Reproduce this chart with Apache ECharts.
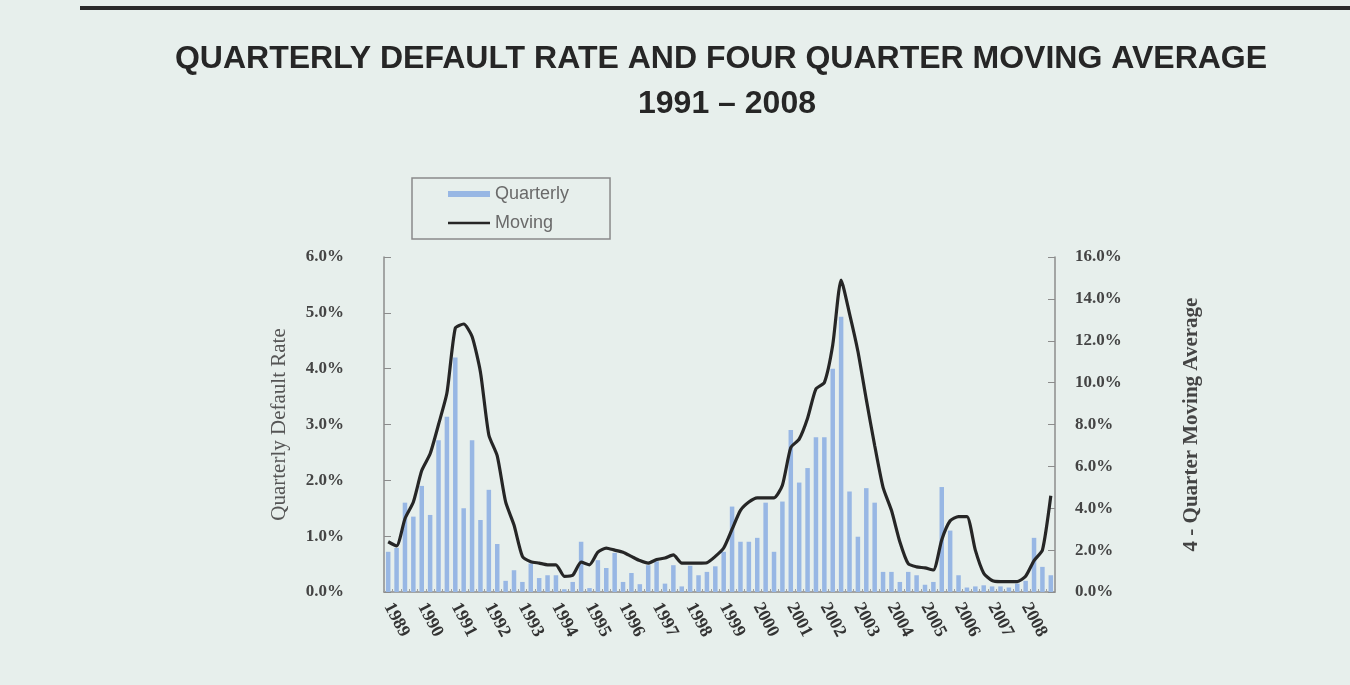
<!DOCTYPE html>
<html>
<head>
<meta charset="utf-8">
<script src="https://cdn.jsdelivr.net/npm/echarts@6/dist/echarts.min.js"></script>
<style>
html,body{margin:0;padding:0;background:#e7efec;}
#c{width:1350px;height:685px;}
</style>
</head>
<body>
<div id="c"></div>
<script>
var years = ['1989','1990','1991','1992','1993','1994','1995','1996','1997','1998','1999','2000','2001','2002','2003','2004','2005','2006','2007','2008'];
var quarterNames = ['Q1','Q2','Q3','Q4'];
var quarterly = [
 0.72, 0.79, 1.6, 1.35, 1.9, 1.38, 2.72, 3.14, 4.2, 1.5,
 2.72, 1.29, 1.83, 0.86, 0.2, 0.39, 0.18, 0.51, 0.25, 0.3,
 0.3, 0.05, 0.18, 0.9, 0.07, 0.57, 0.43, 0.7, 0.18, 0.34,
 0.14, 0.48, 0.55, 0.15, 0.48, 0.1, 0.47, 0.3, 0.36, 0.46,
 0.72, 1.53, 0.9, 0.9, 0.97, 1.6, 0.72, 1.62, 2.9, 1.96,
 2.22, 2.77, 2.77, 4.0, 4.93, 1.8, 0.99, 1.86, 1.6, 0.36,
 0.36, 0.18, 0.36, 0.3, 0.13, 0.18, 1.88, 1.1, 0.3, 0.08,
 0.1, 0.12, 0.1, 0.1, 0.08, 0.15, 0.2, 0.97, 0.45, 0.3
];
var moving = [
 2.4, 2.2, 3.5, 4.3, 5.8, 6.6, 8.0, 9.5, 12.6, 12.8,
 12.2, 10.5, 7.5, 6.5, 4.3, 3.2, 1.7, 1.45, 1.38, 1.3,
 1.3, 0.75, 0.8, 1.43, 1.3, 1.9, 2.1, 2.0, 1.9, 1.7,
 1.5, 1.38, 1.55, 1.62, 1.77, 1.38, 1.38, 1.38, 1.4, 1.7,
 2.1, 3.0, 3.9, 4.3, 4.5, 4.5, 4.5, 5.1, 6.9, 7.3,
 8.3, 9.7, 10.0, 11.8, 14.9, 13.3, 11.5, 9.2, 7.0, 5.0,
 3.9, 2.4, 1.35, 1.2, 1.15, 1.05, 2.5, 3.4, 3.6, 3.6,
 2.0, 0.9, 0.55, 0.5, 0.5, 0.5, 0.75, 1.5, 2.0, 4.6
];
var leftTicks = [0, 6, 1];
var rightTicks = [0, 16, 2];
var titleLines = ['QUARTERLY DEFAULT RATE AND FOUR QUARTER MOVING AVERAGE', '1991 \u2013 2008'];

var categories = [];
years.forEach(function(y){ quarterNames.forEach(function(q){ categories.push(y + ' ' + q); }); });

var serif = '"Liberation Serif","DejaVu Serif",serif';
var sans = '"Liberation Sans",Arial,sans-serif';

var chart = echarts.init(document.getElementById('c'));
chart.setOption({
  backgroundColor: '#e7efec',
  animation: false,
  graphic: [{
    type: 'rect', left: 80, top: 6, shape: {width: 1270, height: 4}, style: {fill: '#2a2a2a'}
  },{
    type: 'text', x: 721, y: 43,
    style: {text: titleLines[0], textAlign: 'center', textVerticalAlign: 'top',
      font: 'bold 32px "Liberation Sans", Arial, sans-serif', fill: '#262626'}
  },{
    type: 'text', x: 727, y: 88,
    style: {text: titleLines[1], textAlign: 'center', textVerticalAlign: 'top',
      font: 'bold 32px "Liberation Sans", Arial, sans-serif', fill: '#262626'}
  }],
  legend: {
    orient: 'vertical', left: 412, top: 178,
    padding: [7, 41, 7, 36], itemGap: 11,
    itemWidth: 42, itemHeight: 6,
    borderColor: '#8a8a8a', borderWidth: 1.5,
    textStyle: {fontFamily: sans, fontSize: 18, color: '#6a6a6a'},
    data: [
      {name: 'Quarterly', icon: 'rect'},
      {name: 'Moving', icon: 'path://M0,0 M0,1.8 L42,1.8 L42,4.2 L0,4.2 Z M42,6'}
    ]
  },
  grid: {left: 384, right: 295, top: 257, bottom: 93},
  xAxis: {
    type: 'category', data: categories, boundaryGap: true,
    axisLine: {lineStyle: {color: '#8c8c8c', width: 1.5}},
    axisTick: {show: true, inside: true, interval: 0, length: 3, lineStyle: {color: '#a0a0a0'}},
    axisLabel: {
      interval: 3, rotate: -62, margin: 12,
      fontFamily: serif, fontWeight: 'bold', fontSize: 18, color: '#333',
      formatter: function(v){ return v.slice(0,4); }
    }
  },
  yAxis: [{
    type: 'value', min: leftTicks[0], max: leftTicks[1], interval: leftTicks[2],
    name: 'Quarterly Default Rate', nameLocation: 'middle', nameGap: 94, nameRotate: 90,
    nameTextStyle: {fontFamily: serif, fontSize: 21, color: '#555'},
    axisLine: {show: true, lineStyle: {color: '#8c8c8c', width: 1.5}},
    axisTick: {show: true, inside: true, length: 7, lineStyle: {color: '#8c8c8c'}},
    splitLine: {show: false},
    axisLabel: {margin: 40, fontFamily: serif, fontWeight: 'bold', fontSize: 17, color: '#444',
      formatter: function(v){ return v.toFixed(1) + '%'; }}
  },{
    type: 'value', min: rightTicks[0], max: rightTicks[1], interval: rightTicks[2], position: 'right',
    name: '4 - Quarter Moving Average', nameLocation: 'middle', nameGap: 126, nameRotate: 90,
    nameTextStyle: {fontFamily: serif, fontWeight: 'bold', fontSize: 21, color: '#444'},
    axisLine: {show: true, lineStyle: {color: '#8c8c8c', width: 1.5}},
    axisTick: {show: true, inside: true, length: 7, lineStyle: {color: '#8c8c8c'}},
    splitLine: {show: false},
    axisLabel: {margin: 20, fontFamily: serif, fontWeight: 'bold', fontSize: 17, color: '#444',
      formatter: function(v){ return v.toFixed(1) + '%'; }}
  }],
  series: [{
    name: 'Quarterly', type: 'bar', yAxisIndex: 0, data: quarterly,
    barWidth: 4.5, itemStyle: {color: '#98b7e4'}
  },{
    name: 'Moving', type: 'line', yAxisIndex: 1, data: moving,
    symbol: 'none', smooth: 0.2,
    lineStyle: {color: '#262626', width: 3.2}, itemStyle: {color: '#262626'}
  }]
});
</script>
</body>
</html>
